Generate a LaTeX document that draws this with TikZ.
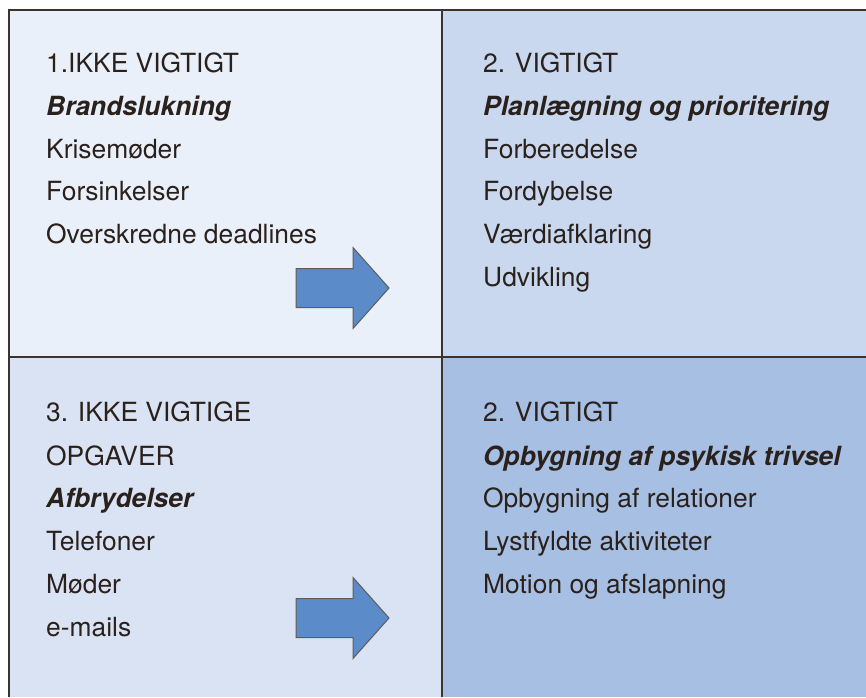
\documentclass[tikz,border=0pt]{standalone}
\usepackage{fontspec}
\setmainfont{TeX Gyre Heros}
\usepackage{xcolor}
\usetikzlibrary{calc}

\definecolor{quadA}{HTML}{EAF0F9}
\definecolor{quadB}{HTML}{C9D8EE}
\definecolor{quadC}{HTML}{DAE3F3}
\definecolor{quadD}{HTML}{A7BFE2}
\definecolor{arrowfill}{HTML}{5B8BC8}
\definecolor{framecol}{HTML}{3A332E}
\definecolor{textcol}{HTML}{2A211C}

\tikzset{
	item/.style={anchor=base west,inner sep=0pt,text=textcol,font=\fontsize{26.4}{31}\selectfont},
	head/.style={item,font=\fontsize{26.4}{31}\selectfont\bfseries\itshape},
	frame/.style={draw=framecol,line width=1.5pt},
	bigarrow/.style={draw=framecol!80,line width=1pt,fill=arrowfill}
}

\begin{document}
\begin{tikzpicture}[x=1pt,y=-1pt]
		\useasboundingbox (0,0) rectangle (866,697);
		
		% quadrants
		\fill[quadA] (9,10) rectangle (442,357);
		\fill[quadB] (442,10) rectangle (866,357);
		\fill[quadC] (9,357) rectangle (442,697);
		\fill[quadD] (442,357) rectangle (866,697);
		
		\draw[frame] (866,10) -- (9,10) -- (9,697);
		\draw[frame] (442,10) -- (442,697);
		\draw[frame] (9,357) -- (866,357);
		
		% arrows
		\foreach \y in {288,618} {
			\draw[bigarrow] (296,\y-19.5) -- (353,\y-19.5) -- (353,\y-40.5) -- (389,\y)
				-- (353,\y+40.5) -- (353,\y+19.5) -- (296,\y+19.5) -- cycle;
		}
		
		% upper left
		\node[item] (a1) at (46,72) {1.IKKE VIGTIGT};
		\node[head] (a2) at (46,115) {Brandslukning};
		\node[item] (a3) at (46,158) {Krisemøder};
		\node[item] (a4) at (46,200) {Forsinkelser};
		\node[item] (a5) at (46,243) {Overskredne deadlines};
		
		% upper right
		\node[item] (b1) at (483,72) {2. VIGTIGT};
		\node[head] (b2) at (483,115) {Planlægning og prioritering};
		\node[item] (b3) at (483,158) {Forberedelse};
		\node[item] (b4) at (483,200) {Fordybelse};
		\node[item] (b5) at (483,243) {Værdiafklaring};
		\node[item] (b6) at (483,286) {Udvikling};
		
		% lower left
		\node[item] (c1) at (46,421) {3. IKKE VIGTIGE};
		\node[item] (c2) at (46,465) {OPGAVER};
		\node[head] (c3) at (46,507) {Afbrydelser};
		\node[item] (c4) at (46,550) {Telefoner};
		\node[item] (c5) at (46,593) {Møder};
		\node[item] (c6) at (46,636) {e-mails};
		
		% lower right
		\node[item] (d1) at (483,421) {2. VIGTIGT};
		\node[head] (d2) at (483,465) {Opbygning af psykisk trivsel};
		\node[item] (d3) at (483,507) {Opbygning af relationer};
		\node[item] (d4) at (483,550) {Lystfyldte aktiviteter};
		\node[item] (d5) at (483,593) {Motion og afslapning};
		
	\end{tikzpicture}
\end{document}
